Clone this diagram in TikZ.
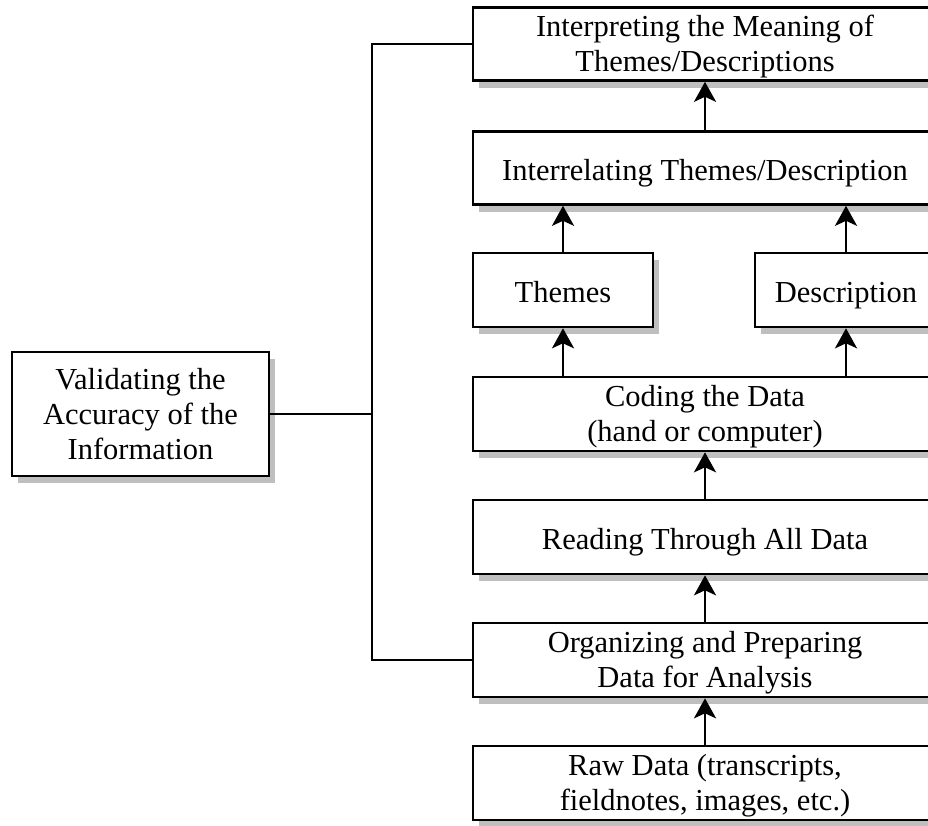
\documentclass[tikz,border=0pt]{standalone}
\usepackage{fontspec}
\setmainfont{Liberation Serif}
\usetikzlibrary{arrows.meta,shadows}
\begin{document}
\begin{tikzpicture}[x=1pt,y=-1pt,
  stagebox/.style={draw=black, line width=2.6pt, fill=white, align=center,
    inner sep=0pt, font=\fontsize{30.5}{35}\selectfont,
    drop shadow={shadow xshift=6pt, shadow yshift=-7pt, fill=black!25, opacity=1}},
  % fixed text extents (measured from the last baseline) so each box
  % places its lines consistently
  oneline/.style={text height=25pt, text depth=1pt},
  twolines/.style={text height=55pt, text depth=1pt},
  threelines/.style={text height=91pt, text depth=1pt},
  flow/.style={line width=2.6pt, -{Stealth[length=20pt,width=22pt,inset=5pt]}},
  link/.style={line width=2.4pt}]
\useasboundingbox (0,0) rectangle (928,825);
\clip (0,0) rectangle (928,825);

% main column of stages
\node[stagebox, twolines, minimum width=464pt, minimum height=73pt] (interp) at (705,44)
  {Interpreting the Meaning of\\Themes/Descriptions};
\node[stagebox, oneline, minimum width=464pt, minimum height=73pt] (interrel) at (705,168)
  {Interrelating Themes/Description};
\node[stagebox, oneline, minimum width=180pt, minimum height=74pt] (themes) at (563,290)
  {Themes};
\node[stagebox, oneline, minimum width=182pt, minimum height=74pt] (descr) at (846,290)
  {Description};
\node[stagebox, twolines, minimum width=464pt, minimum height=74pt] (coding) at (705,414)
  {Coding the Data\\(hand or computer)};
\node[stagebox, oneline, minimum width=464pt, minimum height=74pt] (reading) at (705,537)
  {Reading Through All Data};
\node[stagebox, twolines, minimum width=464pt, minimum height=74pt] (organize) at (705,660)
  {Organizing and Preparing\\Data for Analysis};
\node[stagebox, twolines, minimum width=464pt, minimum height=74pt] (raw) at (705,783)
  {Raw Data (transcripts,\\fieldnotes, images, etc.)};

% validation box on the left
\node[stagebox, threelines, minimum width=257pt, minimum height=124pt] (valid) at (140.5,414)
  {Validating the\\Accuracy of the\\Information};

% upward flow
\draw[flow] (raw.north) -- (organize.south);
\draw[flow] (organize.north) -- (reading.south);
\draw[flow] (reading.north) -- (coding.south);
\draw[flow] (coding.north -| themes.south) -- (themes.south);
\draw[flow] (coding.north -| descr.south) -- (descr.south);
\draw[flow] (themes.north) -- (themes.north |- interrel.south);
\draw[flow] (descr.north) -- (descr.north |- interrel.south);
\draw[flow] (interrel.north) -- (interp.south);

% validation bracket
\coordinate (spine) at (372,414);
\draw[link] (interp.west) -| (spine) |- (organize.west);
\draw[link] (valid.east) -- (spine);
\end{tikzpicture}
\end{document}
